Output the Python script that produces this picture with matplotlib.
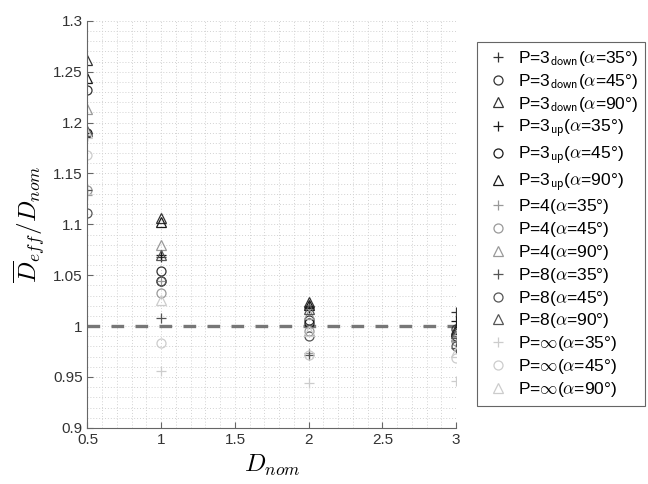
import numpy as np
import matplotlib
matplotlib.use('Agg')
import matplotlib.pyplot as plt
from matplotlib.ticker import MultipleLocator, FuncFormatter

plt.rcParams['font.family'] = ['Liberation Sans', 'DejaVu Sans']
plt.rcParams['mathtext.fontset'] = 'cm'

# Data
d_nom = [0.5, 1, 2, 3]

p3down_35 = [1.190, 1.068, 1.020, 1.014]
p3down_45 = [1.232, 1.054, 1.006, 0.997]
p3down_90 = [1.261, 1.106, 1.024, 0.997]
p3up_35 = [1.187, 1.070, 1.018, 1.005]
p3up_45 = [1.190, 1.044, 1.003, 0.990]
p3up_90 = [1.244, 1.102, 1.021, 0.995]
p4_35 = [1.129, 1.044, 0.974, 0.985]
p4_45 = [1.134, 1.033, 0.995, 0.985]
p4_90 = [1.213, 1.080, 1.012, 0.990]
p8_35 = [1.134, 1.008, 0.972, 0.978]
p8_45 = [1.111, 1.044, 0.990, 0.980]
p8_90 = [1.192, 1.070, 1.017, 0.993]
pinf_35 = [1.130, 0.956, 0.944, 0.946]
pinf_45 = [1.168, 0.983, 0.972, 0.969]
pinf_90 = [1.190, 1.026, 0.995, 0.975]

series = [
    (p3down_35, r'P=3$_{\mathsf{down}}$($\alpha$=35°)', '+', '#333333'),
    (p3down_45, r'P=3$_{\mathsf{down}}$($\alpha$=45°)', 'o', '#333333'),
    (p3down_90, r'P=3$_{\mathsf{down}}$($\alpha$=90°)', '^', '#333333'),
    (p3up_35, r'P=3$_{\mathsf{up}}$($\alpha$=35°)', '+', '#1a1a1a'),
    (p3up_45, r'P=3$_{\mathsf{up}}$($\alpha$=45°)', 'o', '#1a1a1a'),
    (p3up_90, r'P=3$_{\mathsf{up}}$($\alpha$=90°)', '^', '#1a1a1a'),
    (p4_35, r'P=4($\alpha$=35°)', '+', '#999999'),
    (p4_45, r'P=4($\alpha$=45°)', 'o', '#999999'),
    (p4_90, r'P=4($\alpha$=90°)', '^', '#999999'),
    (p8_35, r'P=8($\alpha$=35°)', '+', '#555555'),
    (p8_45, r'P=8($\alpha$=45°)', 'o', '#555555'),
    (p8_90, r'P=8($\alpha$=90°)', '^', '#555555'),
    (pinf_35, r'P=$\infty$($\alpha$=35°)', '+', '#cccccc'),
    (pinf_45, r'P=$\infty$($\alpha$=45°)', 'o', '#cccccc'),
    (pinf_90, r'P=$\infty$($\alpha$=90°)', '^', '#cccccc'),
]

fig = plt.figure(figsize=(6.48, 4.84), dpi=100)
ax = fig.add_axes([0.135, 0.116, 0.569, 0.841])

for vals, label, marker, color in series:
    ax.plot(d_nom, vals, linestyle='none', marker=marker, markersize=6.5,
            markerfacecolor='none', markeredgecolor=color, markeredgewidth=0.9,
            label=label)

# nominal reference line
ax.axhline(1.0, color='#777777', linewidth=2.4, linestyle=(0, (3.8, 3.4)), zorder=1)

ax.set_xlim(0.5, 3)
ax.set_ylim(0.9, 1.3)
ax.xaxis.set_major_locator(MultipleLocator(0.5))
ax.xaxis.set_minor_locator(MultipleLocator(0.1))
ax.yaxis.set_major_locator(MultipleLocator(0.05))
ax.yaxis.set_minor_locator(MultipleLocator(0.01))
ax.xaxis.set_major_formatter(FuncFormatter(lambda v, p: f'{v:g}'))
ax.yaxis.set_major_formatter(FuncFormatter(lambda v, p: f'{v:g}'))

ax.grid(which='both', color='#d2d2d2', linestyle=(0, (1, 2)), linewidth=0.7)
ax.set_axisbelow(True)
for side in ['top', 'right']:
    ax.spines[side].set_visible(False)
for side in ['left', 'bottom']:
    ax.spines[side].set_color('#666666')
ax.tick_params(which='major', direction='in', length=4, color='#666666',
               labelsize=11, labelcolor='#333333')
ax.tick_params(which='minor', length=0)

ax.set_xlabel(r'$D_{nom}$', fontsize=18, labelpad=4)
ax.set_ylabel(r'$\overline{D}_{eff}/D_{nom}$', fontsize=18, labelpad=4)

leg = ax.legend(loc='upper left', bbox_to_anchor=(1.057, 0.948), fontsize=12.5,
                labelspacing=0.22, handletextpad=0.35, borderpad=0.4,
                borderaxespad=0, handlelength=1.6, fancybox=False,
                framealpha=1, edgecolor='#666666')
leg.get_frame().set_linewidth(0.8)

fig.savefig('out.png', dpi=100)
